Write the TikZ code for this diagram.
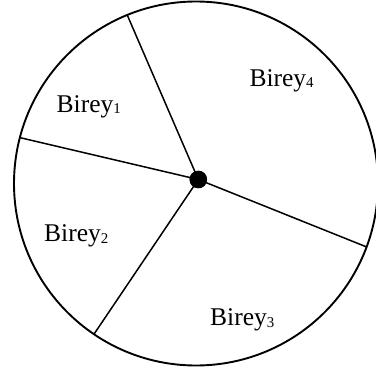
\documentclass[tikz,border=0pt]{standalone}
\usepackage{fontspec}
\setmainfont{Liberation Serif}
\usetikzlibrary{calc}
\newcommand{\sectlabel}[1]{\fontsize{25.6}{28}\selectfont Birey\raisebox{-1.5bp}{\fontsize{15}{15}\selectfont #1}}
\begin{document}
\begin{tikzpicture}[x=1bp,y=1bp,
  rim/.style={draw=black,line width=1.9bp},
  spoke/.style={draw=black,line width=1.5bp},
  hubdot/.style={circle,fill=black,minimum size=17.5bp,inner sep=0pt},
  sector/.style={anchor=base west,inner sep=0pt,text=black}]
\clip (0,0) rectangle (376,374);
\fill[white] (0,0) rectangle (376,374);
\coordinate (c) at (196,190.5);
\draw[rim] (c) circle[radius=182];
\coordinate (e1) at ($(c)+(112.2:182)$);
\coordinate (e2) at ($(c)+(165.4:182)$);
\coordinate (e3) at ($(c)+(235.9:182)$);
\coordinate (e4) at ($(c)+(-20.4:182)$);
\node[hubdot] (hub) at (198.3,194.5) {};
\draw[spoke] (hub.center) -- (e1);
\draw[spoke] (hub.center) -- (e2);
\draw[spoke] (hub.center) -- (e3);
\draw[spoke] (hub.center) -- (e4);
\node[hubdot] at (hub.center) {};
\node[sector] (s1) at (56.5,262) {\sectlabel{1}};
\node[sector] (s2) at (44,132.3) {\sectlabel{2}};
\node[sector] (s3) at (210,48.5) {\sectlabel{3}};
\node[sector] (s4) at (249.3,288) {\sectlabel{4}};
\end{tikzpicture}
\end{document}
